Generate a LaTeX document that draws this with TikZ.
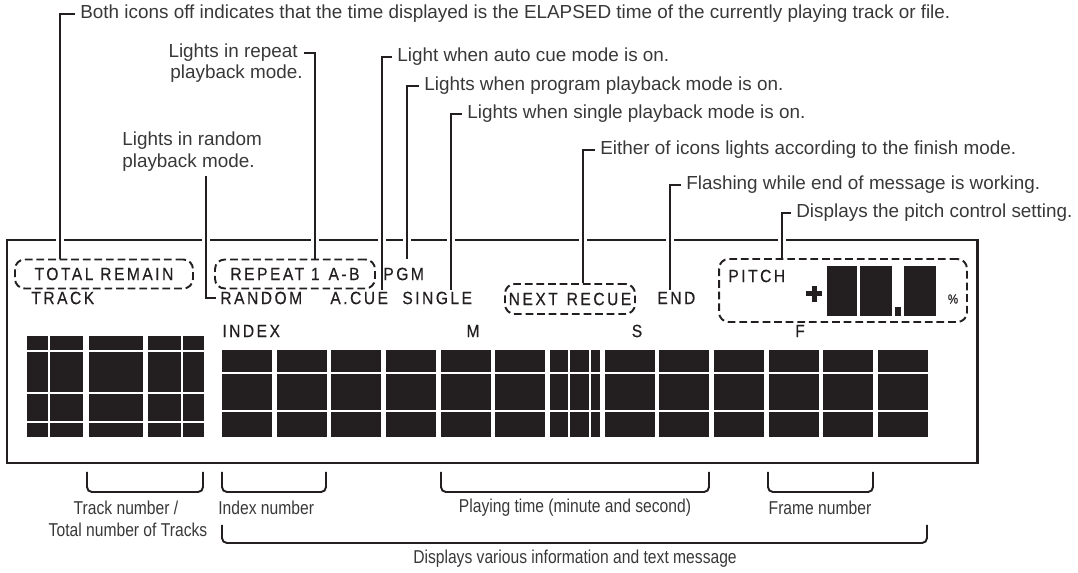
\documentclass[tikz,border=0pt]{standalone}
\usepackage{fontspec}
\setmainfont{Liberation Sans}
\newfontfamily\lcdfont[LetterSpace=14,FakeStretch=0.88,FakeBold=0.4]{Liberation Sans}
\newfontfamily\tagfont[FakeStretch=0.84]{Liberation Sans}
\usetikzlibrary{positioning,backgrounds}
\definecolor{ink}{HTML}{231F20}
\definecolor{notegray}{HTML}{383838}
\tikzset{
  note/.style={inner sep=0pt, text=notegray, font=\fontsize{10.75}{12.6}\selectfont},
  lcd/.style={inner sep=0pt, text=ink, font=\lcdfont\fontsize{10.1}{11}\selectfont},
  tag/.style={inner sep=0pt, text=notegray, font=\tagfont\fontsize{10.6}{13}\selectfont},
  lead/.style={draw=ink, line width=1.3pt, preaction={draw=white, line width=4pt}},
  zone/.style={draw=ink, line width=1.1pt, dash pattern=on 4.4pt off 2.2pt, rounded corners=5.5pt, inner sep=0pt},
  slit/.style={draw=white, line width=1.1pt},
  brace/.style={draw=ink, line width=1.1pt, rounded corners=2.8pt},
}
\begin{document}
\begin{tikzpicture}[x=0.02cm, y=-0.02cm]
\useasboundingbox (0,0) rectangle (1078,573);

\node[zone, lcd, minimum width=3.56cm, minimum height=0.58cm] (bTotal) at (104,274) {TOTAL REMAIN};
\node[zone, lcd, minimum width=3.2cm, minimum height=0.58cm] (bRepeat) at (295,274) {REPEAT 1\hspace{0.5em}A-B};
\node[lcd, anchor=west] (lPgm) at (383,274) {PGM};
\node[lcd, anchor=west] (lTrack) at (31,298) {TRACK};
\node[lcd, anchor=west] (lRandom) at (220,298) {RANDOM};
\node[lcd, anchor=west] (lCue) at (330,298) {A.CUE};
\node[lcd, anchor=west] (lSingle) at (402,298) {SINGLE};
\node[zone, lcd, minimum width=2.6cm, minimum height=0.6cm] (bNext) at (570,299) {NEXT\hspace{0.5em}RECUE};
\node[lcd, anchor=west] (lEnd) at (657,298) {END};
\node[zone, minimum width=4.96cm, minimum height=1.26cm] (bPitch) at (843,290.5) {};
\node[lcd, anchor=west] (lPitch) at (728,276) {PITCH};
\node[lcd, font=\lcdfont\fontsize{7.5}{9}\selectfont] (lPct) at (953,299) {\%};
\node[lcd, anchor=west] (lIndex) at (222,331) {INDEX};
\node[lcd] (lMin) at (473,331) {M};
\node[lcd] (lSec) at (637,331) {S};
\node[lcd] (lFrm) at (800,331) {F};

\node[note, anchor=west] (nBoth) at (80,14) {Both icons off indicates that the time displayed is the ELAPSED time of the currently playing track or file.};
\node[note, anchor=east] (nRepeat) at (298,53) {Lights in repeat};
\node[note, anchor=east] (nRepeatB) at (303,74) {playback mode.};
\node[note, anchor=west] (nCue) at (397,57) {Light when auto cue mode is on.};
\node[note, anchor=west] (nPgm) at (424,86) {Lights when program playback mode is on.};
\node[note, anchor=west] (nSingle) at (467,114) {Lights when single playback mode is on.};
\node[note, align=left, anchor=north west] (nRandom) at (122,131) {Lights in random\\playback mode.};
\node[note, anchor=west] (nNext) at (600,150) {Either of icons lights according to the finish mode.};
\node[note, anchor=west] (nEnd) at (686,185) {Flashing while end of message is working.};
\node[note, anchor=west] (nPitch) at (796,213) {Displays the pitch control setting.};

\begin{scope}[on background layer]
\draw[ink, line width=1.7pt] (7,240) rectangle (977,463);
\draw[lead] (nBoth.west) ++(-5,0) -| (60,0 |- bTotal.north);
\draw[lead] (nRepeat.east) ++(6,0) -| (315,0 |- bRepeat.north);
\draw[lead, shorten >=1pt] (nCue.west) ++(-5,0) -| (382,0 |- lCue.north);
\draw[lead, shorten >=4.5pt] (nPgm.west) ++(-5,0) -| (407,0 |- lPgm.north);
\draw[lead, shorten >=1pt] (nSingle.west) ++(-5,0) -| (451,0 |- lSingle.north);
\draw[lead, shorten >=2pt] (206,0 |- nRandom.south) ++(0,5) |- (lRandom.west);
\draw[lead] (nNext.west) ++(-5,0) -| (583,0 |- bNext.north);
\draw[lead, shorten >=1pt] (nEnd.west) ++(-5,0) -| (670,0 |- lEnd.north);
\draw[lead] (nPitch.west) ++(-5,0) -| (782,0 |- bPitch.north);
\end{scope}

\foreach \xa/\xb in {27/83, 89/143, 148/204}
  \fill[ink] (\xa,336) rectangle (\xb,437);
\foreach \yy in {351,393,422}
  \draw[slit] (27,\yy) -- (204,\yy);
\foreach \xx in {49,182}
  \draw[slit] (\xx,336) -- (\xx,437);

\foreach \i in {0,...,12}
  \fill[ink] ({222+54.67*\i},350) rectangle ++(50,87);
\foreach \yy in {373,411}
  \draw[slit] (222,\yy) -- (928,\yy);
\foreach \xx in {569,590}
  \draw[slit] (\xx,350) -- (\xx,437);

\fill[ink] (827,266) rectangle (857,316);
\fill[ink] (860,266) rectangle (892,316);
\fill[ink] (895,307) rectangle (901,316);
\fill[ink] (904,266) rectangle (936,316);
\fill[ink] (806,291.5) rectangle (822,296.5);
\fill[ink] (811.5,286) rectangle (816.5,302);

\draw[brace] (87,472) |- (203,492) -- (203,472);
\draw[brace] (222,472) |- (326,492) -- (326,472);
\draw[brace] (441,472) |- (709,492) -- (709,472);
\draw[brace] (768,472) |- (873,492) -- (873,472);
\draw[brace] (222,525) |- (927,543) -- (927,525);
\node[tag] (tTrack) at (126,508) {Track number /};
\node[tag] (tTotal) at (128,530) {Total number of Tracks};
\node[tag, anchor=west] (tIndex) at (218,508) {Index number};
\node[tag] (tPlay) at (575,508) {Playing time (minute and second)};
\node[tag] (tFrame) at (820,508) {Frame number};
\node[tag] (tInfo) at (575,559) {Displays various information and text message};
\end{tikzpicture}
\end{document}
